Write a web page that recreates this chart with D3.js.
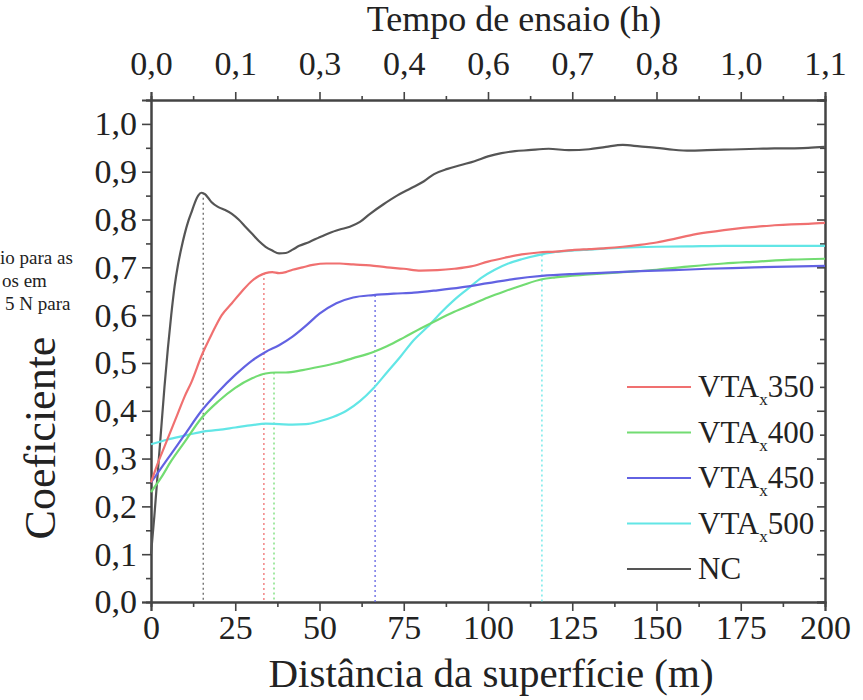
<!DOCTYPE html>
<html>
<head>
<meta charset="utf-8">
<script src="https://d3js.org/d3.v7.min.js"></script>
<style>
  body { margin: 0; background: #fff; }
</style>
</head>
<body>
<div id="chart"></div>
<script>
var width = 863,
    height = 700,
    serif = "'Liberation Serif', 'Times New Roman', serif";

// distance (m) and coefficient values
var ncDist = [0,1,2,3,4,5,6,7,8,9,10,11,12,13,14,15,16,17,18,20,22,24,26,28,30,32,34,36,38,40,42,44,47,50,53,56,59,62,65,69,73,77,81,84,88,92,96,100,104,108,112,118,124,130,135,140,145,150,155,160,165,170,175,180,185,190,195,200];
var ncVal  = [0.10,0.18,0.27,0.36,0.45,0.53,0.60,0.66,0.705,0.74,0.77,0.795,0.815,0.835,0.85,0.856,0.853,0.845,0.836,0.826,0.82,0.812,0.80,0.785,0.77,0.755,0.743,0.735,0.729,0.73,0.737,0.745,0.753,0.763,0.772,0.779,0.785,0.795,0.812,0.832,0.85,0.865,0.88,0.895,0.906,0.914,0.922,0.932,0.939,0.943,0.945,0.948,0.945,0.947,0.952,0.956,0.953,0.95,0.946,0.944,0.945,0.946,0.947,0.948,0.949,0.949,0.95,0.952];

var d350 = [0,2,4,6,8,10,12,15,18,21,24,27,30,32,34,36,38,40,42,45,48,52,56,60,65,70,75,80,85,90,95,100,105,110,115,120,125,130,135,140,145,150,155,160,165,170,175,180,185,190,195,200];
var v350 = [0.25,0.29,0.325,0.36,0.395,0.43,0.46,0.515,0.56,0.60,0.625,0.65,0.672,0.682,0.688,0.69,0.688,0.69,0.695,0.70,0.705,0.708,0.708,0.706,0.704,0.70,0.697,0.693,0.694,0.697,0.702,0.712,0.72,0.727,0.731,0.733,0.736,0.738,0.74,0.743,0.747,0.752,0.759,0.767,0.773,0.778,0.782,0.785,0.788,0.79,0.791,0.793];

var d400 = [0,3,6,10,15,20,25,30,34,37,40,45,50,55,60,66,70,75,80,85,90,95,100,105,110,116,120,130,140,150,160,170,180,190,200];
var v400 = [0.23,0.26,0.295,0.335,0.385,0.42,0.448,0.468,0.478,0.48,0.48,0.485,0.492,0.50,0.51,0.523,0.535,0.553,0.572,0.59,0.607,0.622,0.637,0.65,0.662,0.675,0.679,0.685,0.69,0.695,0.702,0.708,0.712,0.716,0.718];

var d450 = [0,3,6,10,15,20,25,30,34,38,42,46,50,55,60,66,72,78,85,92,100,108,116,125,135,145,155,165,175,185,200];
var v450 = [0.25,0.28,0.31,0.35,0.40,0.44,0.475,0.505,0.523,0.537,0.555,0.578,0.603,0.625,0.637,0.642,0.645,0.647,0.652,0.658,0.667,0.676,0.682,0.686,0.689,0.692,0.694,0.697,0.699,0.701,0.703];

var d500 = [0,5,10,15,20,25,30,34,38,42,46,50,54,58,62,66,70,74,78,82,86,90,94,98,102,106,110,116,120,125,130,140,150,160,170,180,190,200];
var v500 = [0.33,0.34,0.348,0.356,0.36,0.365,0.37,0.373,0.372,0.371,0.372,0.378,0.387,0.40,0.42,0.447,0.48,0.513,0.548,0.575,0.605,0.632,0.655,0.678,0.695,0.708,0.717,0.727,0.732,0.735,0.737,0.741,0.743,0.744,0.745,0.745,0.745,0.745];

var seriesNames = ["350", "400", "450", "500", "NC"];
var seriesColors = ["#f07070", "#72dc72", "#6262e2", "#62e6e6", "#555555"];

// dotted drop lines: distance and value where they start
var markDist = [15.5, 33.5, 36.5, 66.5, 116];
var markVal = [0.856, 0.688, 0.48, 0.642, 0.727];
var markColors = ["#666666", "#f07070", "#72dc72", "#6262e2", "#62e6e6"];

var xTicks = [0, 25, 50, 75, 100, 125, 150, 175, 200];
var topLabels = ["0,0", "0,1", "0,3", "0,4", "0,6", "0,7", "0,8", "1,0", "1,1"];
var yTicks = [0, 0.1, 0.2, 0.3, 0.4, 0.5, 0.6, 0.7, 0.8, 0.9, 1.0];

var caption = ["io para as", "os em", "5 N para"];

var x = d3.scaleLinear().domain([0, 200]).range([151, 825]);
var y = d3.scaleLinear().domain([0, 1.05]).range([602, 100]);

var svg = d3.select("#chart")
    .append("svg")
    .attr("width", width)
    .attr("height", height);

// caption fragments on the left (cut off)
svg.selectAll("text.caption")
    .data(caption)
    .enter()
    .append("text")
    .attr("class", "caption")
    .attr("x", function (d, i) { return [0, 2, 5][i]; })
    .attr("y", function (d, i) { return 264 + i * 23; })
    .style("font-size", "19px")
    .text(function (d) { return d; });

var comma = function (d) { return d3.format(".1f")(d).replace(".", ","); };

var minorX = d3.range(12.5, 200, 25);
var minorY = d3.range(0.05, 1.06, 0.1);

// bottom axis
svg.append("g")
    .attr("transform", "translate(0,602)")
    .call(d3.axisBottom(x).tickValues(xTicks).tickSize(9).tickPadding(4).tickFormat(d3.format("d")));
svg.append("g")
    .attr("transform", "translate(0,602)")
    .call(d3.axisBottom(x).tickValues(minorX).tickSize(5).tickFormat(""));

// top axis (test time, same positions)
svg.append("g")
    .attr("transform", "translate(0,100)")
    .call(d3.axisTop(x).tickValues(xTicks).tickSize(8).tickPadding(17)
        .tickFormat(function (d, i) { return topLabels[i]; }));
svg.append("g")
    .attr("transform", "translate(0,100)")
    .call(d3.axisTop(x).tickValues(minorX).tickSize(4).tickFormat(""));

// left axis
svg.append("g")
    .attr("transform", "translate(151,0)")
    .call(d3.axisLeft(y).tickValues(yTicks).tickSize(9).tickPadding(5).tickFormat(comma));
svg.append("g")
    .attr("transform", "translate(151,0)")
    .call(d3.axisLeft(y).tickValues(minorY).tickSize(5).tickFormat(""));

// right axis, ticks inward
svg.append("g")
    .attr("transform", "translate(825,0)")
    .call(d3.axisLeft(y).tickValues(yTicks).tickSize(8).tickFormat(""));
svg.append("g")
    .attr("transform", "translate(825,0)")
    .call(d3.axisLeft(y).tickValues(minorY).tickSize(5).tickFormat(""));

svg.selectAll(".domain")
    .attr("stroke", "#444")
    .attr("stroke-width", 2);
svg.selectAll(".tick line")
    .attr("stroke", "#444")
    .attr("stroke-width", 1.6);
svg.selectAll(".tick text")
    .style("font-size", "34px")
    .attr("fill", "#222");

// dotted drop lines
svg.selectAll("line.mark")
    .data(markDist)
    .enter()
    .append("line")
    .attr("class", "mark")
    .attr("x1", function (d) { return x(d); })
    .attr("x2", function (d) { return x(d); })
    .attr("y1", function (d, i) { return y(markVal[i]); })
    .attr("y2", y(0))
    .attr("stroke", function (d, i) { return markColors[i]; })
    .attr("stroke-width", 1.3)
    .attr("stroke-dasharray", "2,3");

var line = d3.line()
    .x(function (d) { return x(d[0]); })
    .y(function (d) { return y(d[1]); })
    .curve(d3.curveMonotoneX);

var seriesData = [
    d3.zip(d350, v350),
    d3.zip(d400, v400),
    d3.zip(d450, v450),
    d3.zip(d500, v500),
    d3.zip(ncDist, ncVal)
];

// draw NC first, then coloured series on top
var drawOrder = [4, 3, 1, 2, 0];
drawOrder.forEach(function (k) {
    svg.append("path")
        .datum(seriesData[k])
        .attr("fill", "none")
        .attr("stroke", seriesColors[k])
        .attr("stroke-width", 2.2)
        .attr("stroke-linejoin", "round")
        .attr("d", line);
});

// legend
var legend = svg.append("g").attr("class", "legend");
var item = legend.selectAll("g")
    .data(seriesNames)
    .enter()
    .append("g")
    .attr("transform", function (d, i) { return "translate(0," + (387 + i * 45.5) + ")"; });

item.append("line")
    .attr("x1", 627)
    .attr("x2", 691)
    .attr("stroke", function (d, i) { return seriesColors[i]; })
    .attr("stroke-width", 2.2);

var lt = item.append("text")
    .attr("x", 698)
    .attr("y", 10)
    .style("font-size", "31px");
lt.each(function (d) {
    var t = d3.select(this);
    if (d === "NC") {
        t.text("NC");
    } else {
        t.append("tspan").text("VTA");
        t.append("tspan").attr("dy", 8).style("font-size", "17px").text("x");
        t.append("tspan").attr("dy", -8).text(d);
    }
});

// axis titles
svg.append("text")
    .attr("x", 491)
    .attr("y", 687)
    .attr("text-anchor", "middle")
    .style("font-size", "41px")
    .text("Distância da superfície (m)");

svg.append("text")
    .attr("x", 514)
    .attr("y", 31)
    .attr("text-anchor", "middle")
    .style("font-size", "36px")
    .text("Tempo de ensaio (h)");

svg.append("text")
    .attr("transform", "translate(55,438) rotate(-90)")
    .attr("text-anchor", "middle")
    .style("font-size", "44px")
    .text("Coeficiente");

svg.selectAll("text")
    .style("font-family", serif)
    .attr("fill", "#222");
</script>
</body>
</html>
